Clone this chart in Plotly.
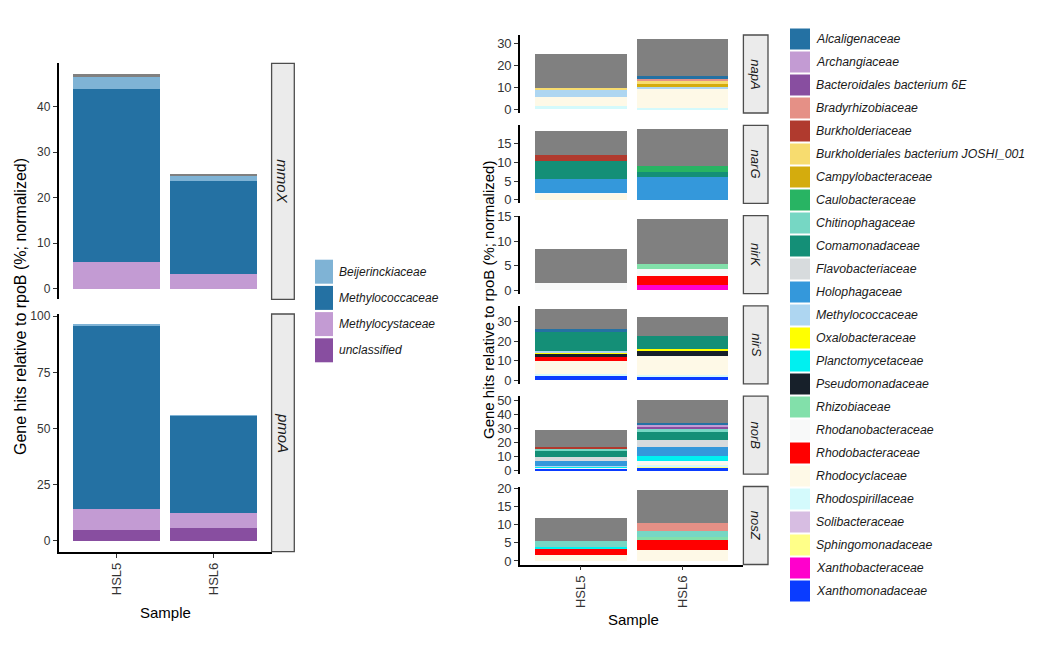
import plotly.graph_objects as go

W, H = 1053, 648
OFFX, OFFY = 8.0, 8.0   # page body margin compensation
FONT = "Liberation Sans, Arial, sans-serif"
NARROW = "Liberation Sans Narrow, Liberation Sans, Arial, sans-serif"

samples = ["HSL5", "HSL6"]

# ---- left (methane) panel families / colours (legend order) ----
left_families = ["Beijerinckiaceae", "Methylococcaceae", "Methylocystaceae", "unclassified"]
left_colors = ["#7fb3d5", "#2471a3", "#c39bd3", "#884ea0"]

# ---- right (denitrification) panel families / colours (legend order) ----
right_families = [
    "Alcaligenaceae", "Archangiaceae", "Bacteroidales bacterium 6E", "Bradyrhizobiaceae",
    "Burkholderiaceae", "Burkholderiales bacterium JOSHI_001", "Campylobacteraceae",
    "Caulobacteraceae", "Chitinophagaceae", "Comamonadaceae", "Flavobacteriaceae",
    "Holophagaceae", "Methylococcaceae", "Oxalobacteraceae", "Planctomycetaceae",
    "Pseudomonadaceae", "Rhizobiaceae", "Rhodanobacteraceae", "Rhodobacteraceae",
    "Rhodocyclaceae", "Rhodospirillaceae", "Solibacteraceae", "Sphingomonadaceae",
    "Xanthobacteraceae", "Xanthomonadaceae",
]
right_colors = [
    "#2471a3", "#c39bd3", "#884ea0", "#e59086",
    "#b03a2e", "#f7dc6f", "#d4ac0d",
    "#28b463", "#76d7c4", "#148f77", "#d7dbdd",
    "#3498db", "#aed6f1", "#ffff00", "#00f0f0",
    "#17202a", "#82e0aa", "#f8f9f9", "#ff0000",
    "#fef9e7", "#d4fafc", "#d7bde2", "#ffff88",
    "#ff00cc", "#0a3cff",
]
other_name = "Other"
other_color = "#808080"

# ---- values: family -> [HSL5, HSL6] (% of rpoB) ----
mmoX = {"Methylocystaceae": [5.8, 3.1], "Methylococcaceae": [38.2, 20.5],
        "Beijerinckiaceae": [2.6, 1.3], "Other": [0.6, 0.4]}
pmoA = {"unclassified": [4.7, 5.9], "Methylocystaceae": [9.7, 6.3],
        "Methylococcaceae": [81.5, 43.5], "Beijerinckiaceae": [0.3, 0.3]}

napA = {"Rhodospirillaceae": [1.5, 0.6], "Rhodocyclaceae": [4.3, 8.6],
        "Methylococcaceae": [3.0, 1.1], "Campylobacteraceae": [0.0, 1.5],
        "Burkholderiales bacterium JOSHI_001": [1.2, 1.2], "Bradyrhizobiaceae": [0.0, 1.1],
        "Alcaligenaceae": [0.0, 1.1], "Other": [15.3, 17.1]}
narG = {"Rhodocyclaceae": [1.7, 0.0], "Rhodanobacteraceae": [0.2, 0.0],
        "Holophagaceae": [3.6, 6.2], "Comamonadaceae": [4.9, 1.3],
        "Caulobacteraceae": [0.0, 1.5], "Burkholderiaceae": [1.7, 0.0],
        "Other": [6.4, 10.0]}
nirK = {"Xanthobacteraceae": [0.0, 1.1], "Rhodobacteraceae": [0.0, 1.7],
        "Rhodanobacteraceae": [1.5, 1.6], "Rhizobiaceae": [0.0, 1.0],
        "Other": [6.9, 9.1]}
nirS = {"Xanthomonadaceae": [2.3, 2.2], "Rhodospirillaceae": [0.9, 0.6],
        "Rhodocyclaceae": [6.8, 9.7], "Rhodobacteraceae": [1.7, 0.0],
        "Pseudomonadaceae": [1.6, 2.3], "Oxalobacteraceae": [1.2, 1.4],
        "Methylococcaceae": [0.5, 0.0], "Comamonadaceae": [9.5, 6.6],
        "Alcaligenaceae": [1.8, 0.0], "Other": [9.9, 9.4]}
norB = {"Xanthomonadaceae": [1.2, 2.4], "Sphingomonadaceae": [0.0, 0.6],
        "Rhodospirillaceae": [0.0, 1.0], "Rhodocyclaceae": [0.0, 1.2],
        "Rhodanobacteraceae": [0.7, 1.9], "Planctomycetaceae": [1.0, 3.6],
        "Methylococcaceae": [0.7, 0.0], "Holophagaceae": [3.5, 6.0],
        "Flavobacteriaceae": [2.4, 5.2], "Comamonadaceae": [4.8, 5.5],
        "Chitinophagaceae": [1.2, 2.2], "Burkholderiaceae": [1.2, 0.0],
        "Bacteroidales bacterium 6E": [0.0, 1.6], "Archangiaceae": [0.0, 1.8],
        "Alcaligenaceae": [0.0, 1.5], "Other": [12.6, 16.3]}
nosZ = {"Rhodocyclaceae": [1.6, 3.0], "Rhodobacteraceae": [1.9, 2.7],
        "Rhizobiaceae": [0.0, 0.9], "Planctomycetaceae": [0.3, 0.0],
        "Chitinophagaceae": [1.8, 1.6], "Bradyrhizobiaceae": [0.0, 2.3],
        "Other": [6.1, 9.0]}

left_genes = [("mmoX", mmoX), ("pmoA", pmoA)]
right_genes = [("napA", napA), ("narG", narG), ("nirK", nirK),
               ("nirS", nirS), ("norB", norB), ("nosZ", nosZ)]
left_ticks = {"mmoX": [0, 10, 20, 30, 40], "pmoA": [0, 25, 50, 75, 100]}
right_ticks = {"napA": [0, 10, 20, 30], "narG": [0, 5, 10, 15], "nirK": [0, 5, 10, 15],
               "nirS": [0, 10, 20, 30], "norB": [0, 10, 20, 30, 40, 50], "nosZ": [0, 5, 10, 15, 20]}


def xp(px):
    return (px - OFFX) / W


def yp(py):
    return 1 - (py - OFFY) / H


color_of = dict(zip(left_families, left_colors))
rcolor_of = dict(zip(right_families, right_colors))

fig = go.Figure()
shapes = []
annotations = []

# panel geometry (pixels)
panels = []
left_y = [(63.3, 299.3), (314.0, 551.7)]
for i, (g, d) in enumerate(left_genes):
    panels.append(dict(gene=g, data=d, x0=58.6, x1=271.6, sx1=294.3, y0=left_y[i][0], y1=left_y[i][1],
                       order=list(reversed(left_families)), cmap=color_of,
                       ticks=left_ticks[g], bottom=(i == len(left_genes) - 1), side="L"))
for i, (g, d) in enumerate(right_genes):
    top = 35.0 + 90.3 * i
    panels.append(dict(gene=g, data=d, x0=520.0, x1=743.4, sx1=768.0, y0=top, y1=top + 78.0,
                       order=list(reversed(right_families)), cmap=rcolor_of,
                       ticks=right_ticks[g], bottom=(i == len(right_genes) - 1), side="R"))

for k, p in enumerate(panels, start=1):
    xa = "x" if k == 1 else f"x{k}"
    ya = "y" if k == 1 else f"y{k}"
    d = p["data"]
    order = p["order"] + [other_name]
    for fam in order:
        if fam not in d:
            continue
        col = other_color if fam == other_name else p["cmap"][fam]
        fig.add_trace(go.Bar(x=samples, y=d[fam], name=fam, marker=dict(color=col, line=dict(width=0)),
                             xaxis=xa, yaxis=ya, showlegend=False, width=0.9))
    totals = [sum(v[j] for v in d.values()) for j in range(len(samples))]
    mx = max(totals)
    yr = [-0.05 * mx, 1.05 * mx]
    left_side = p["side"] == "L"
    tick_font = dict(family=NARROW if left_side else FONT, size=12 if left_side else 13, color="#333333")
    xkey = "xaxis" if k == 1 else f"xaxis{k}"
    ykey = "yaxis" if k == 1 else f"yaxis{k}"
    fig.layout[xkey] = dict(domain=[xp(p["x0"]), xp(p["x1"])], anchor=ya, range=[-0.6, 1.6],
                            type="category", showgrid=False, zeroline=False, automargin=False,
                            showline=p["bottom"], linecolor="black", linewidth=1.6,
                            ticks="outside" if p["bottom"] else "", ticklen=4, tickcolor="#333333",
                            showticklabels=p["bottom"], tickangle=-90,
                            tickfont=dict(family=FONT, size=13, color="#333333"))
    fig.layout[ykey] = dict(domain=[yp(p["y1"]), yp(p["y0"])], anchor=xa, range=yr, automargin=False,
                            showgrid=False, zeroline=False, showline=True, linecolor="black", linewidth=1.6,
                            ticks="outside", ticklen=4, tickcolor="#333333", tickvals=p["ticks"],
                            tickfont=tick_font)
    # facet strip
    shapes.append(dict(type="rect", xref="paper", yref="paper",
                       x0=xp(p["x1"]), x1=xp(p["sx1"]), y0=yp(p["y1"]), y1=yp(p["y0"]),
                       fillcolor="#ebebeb", line=dict(color="#4d4d4d", width=1.3), layer="above"))
    annotations.append(dict(xref="paper", yref="paper", x=xp((p["x1"] + p["sx1"]) / 2),
                            y=yp((p["y0"] + p["y1"]) / 2), text=f"<i>{p['gene']}</i>", textangle=90,
                            xanchor="center", yanchor="middle",
                            showarrow=False, font=dict(family=FONT, size=15 if left_side else 13, color="#1a1a1a")))

# axis titles
ytitle = "Gene hits relative to rpoB (%; normalized)"
annotations.append(dict(xref="paper", yref="paper", x=xp(21), y=yp(307), text=ytitle, textangle=-90,
                        xanchor="center", yanchor="middle",
                        showarrow=False, font=dict(family=FONT, size=16, color="black")))
annotations.append(dict(xref="paper", yref="paper", x=xp(488), y=yp(300), text=ytitle, textangle=-90,
                        xanchor="center", yanchor="middle",
                        showarrow=False, font=dict(family=FONT, size=15, color="black")))
annotations.append(dict(xref="paper", yref="paper", x=xp(165), y=yp(612), text="Sample",
                        xanchor="center", yanchor="middle",
                        showarrow=False, font=dict(family=FONT, size=15, color="black")))
annotations.append(dict(xref="paper", yref="paper", x=xp(633), y=yp(619), text="Sample",
                        xanchor="center", yanchor="middle",
                        showarrow=False, font=dict(family=FONT, size=15, color="black")))

# legends (drawn as keys + labels)
for i, (fam, col) in enumerate(zip(left_families, left_colors)):
    cy = 271.7 + 26.2 * i
    shapes.append(dict(type="rect", xref="paper", yref="paper", x0=xp(315), x1=xp(333),
                       y0=yp(cy + 12), y1=yp(cy - 12), fillcolor=col, line=dict(width=0)))
    annotations.append(dict(xref="paper", yref="paper", x=xp(337), y=yp(cy), text=f"<i>{fam}</i>",
                            xanchor="left", yanchor="middle", showarrow=False,
                            font=dict(family=NARROW, size=12, color="#1a1a1a")))
for i, (fam, col) in enumerate(zip(right_families, right_colors)):
    cy = 39.0 + 23.0 * i
    shapes.append(dict(type="rect", xref="paper", yref="paper", x0=xp(790), x1=xp(810),
                       y0=yp(cy + 10.5), y1=yp(cy - 10.5), fillcolor=col, line=dict(width=0)))
    annotations.append(dict(xref="paper", yref="paper", x=xp(814), y=yp(cy), text=f"<i>{fam}</i>",
                            xanchor="left", yanchor="middle", showarrow=False,
                            font=dict(family=FONT, size=12.3, color="#1a1a1a")))

fig.update_layout(
    width=W, height=H, margin=dict(l=0, r=0, t=0, b=0, pad=0, autoexpand=False),
    paper_bgcolor="white", plot_bgcolor="white",
    barmode="stack", bargap=0.1, showlegend=False,
    font=dict(family=FONT, color="#333333"),
    shapes=shapes, annotations=annotations,
)

fig.write_html("out.html")
